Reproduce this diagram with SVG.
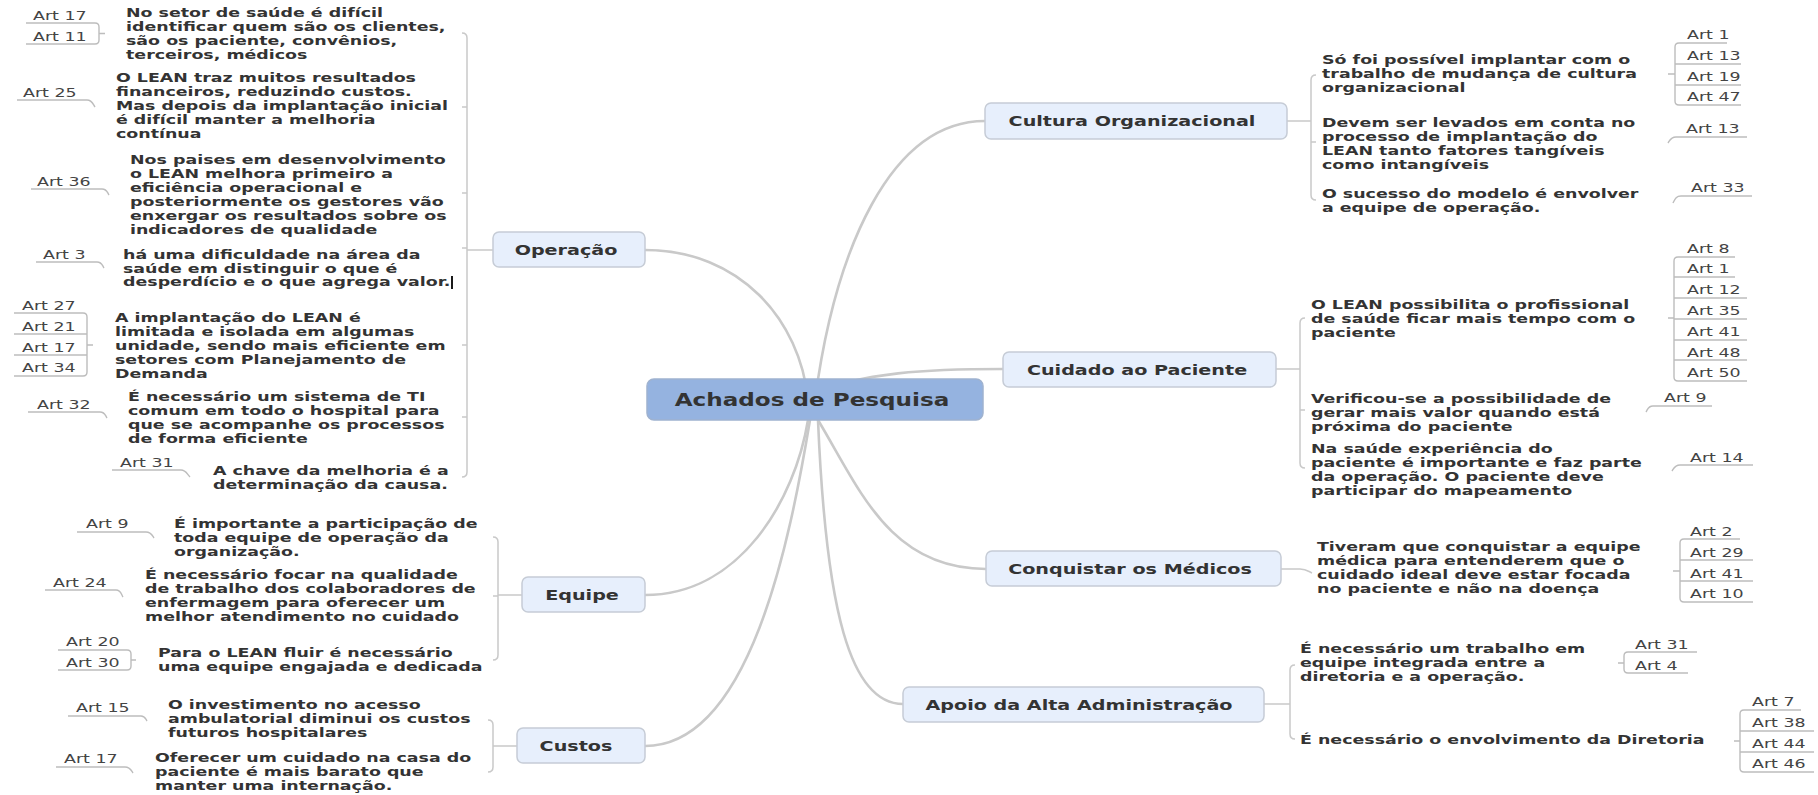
<svg xmlns="http://www.w3.org/2000/svg" width="1818" height="795" viewBox="0 0 1818 795">
  <style>
    .bg { fill: #ffffff; }
    .topic { fill: #e7effc; stroke: #c6ccd6; stroke-width: 1.5; }
    .root { fill: #95b3e0; stroke: #9fb2cf; stroke-width: 1.5; }
    .h { font-family: "DejaVu Sans", Verdana, sans-serif; font-weight: bold; font-size: 14.3px; fill: #333333; text-anchor: middle; }
    .hr { font-family: "DejaVu Sans", Verdana, sans-serif; font-weight: bold; font-size: 17.5px; fill: #333333; text-anchor: middle; }
    .t { font-family: "DejaVu Sans", Verdana, sans-serif; font-weight: bold; font-size: 13px; fill: #333333; }
    .a { font-family: "DejaVu Sans", Verdana, sans-serif; font-size: 13px; fill: #444444; }
    .cn { fill: none; stroke: #c9c9c9; stroke-width: 2.6; stroke-linecap: round; }
    .br { fill: none; stroke: #c9c9c9; stroke-width: 1.5; }
    .ul { fill: none; stroke: #bdbdbd; stroke-width: 1.4; }
  </style>
  <rect class="bg" x="0" y="0" width="1818" height="795"/>

  <g id="connectors">
    <!-- main branches from the central topic -->
    <path class="cn" d="M808,400 C800,320 740,250 645,250"/>
    <path class="cn" d="M815,400 C835,250 890,121 985,121"/>
    <path class="cn" d="M812,395 C860,372 930,369 1003,369"/>
    <path class="cn" d="M818,420 C860,490 890,569 986,569"/>
    <path class="cn" d="M818,420 C826,610 850,704 903,704"/>
    <path class="cn" d="M808,420 C795,500 740,595 645,595"/>
    <path class="cn" d="M810,420 C790,540 750,746 645,746"/>

    <!-- Operação bracket -->
    <path class="br" d="M462,33 Q467,33 467,38 V472 Q467,477 462,477 M462,107 H467 M462,193 H467 M462,248 H467 M462,345 H467 M462,417 H467 M467,250 H493"/>
    <!-- Equipe bracket -->
    <path class="br" d="M493,537 Q498,537 498,542 V655 Q498,660 493,660 M493,596 H498 M498,595 H522"/>
    <!-- Custos bracket -->
    <path class="br" d="M488,720 Q493,720 493,725 V767 Q493,772 488,772 M493,746 H517"/>
    <!-- Cultura bracket -->
    <path class="br" d="M1316,75 Q1311,75 1311,80 V195 Q1311,200 1316,200 M1311,142 H1316 M1287,121 H1311"/>
    <!-- Cuidado bracket -->
    <path class="br" d="M1305,318 Q1300,318 1300,323 V463 Q1300,468 1305,468 M1300,410 H1305 M1276,369 H1300"/>
    <!-- Conquistar link -->
    <path class="br" d="M1281,569 H1300 C1306,569 1308,571 1312,573"/>
    <!-- Apoio bracket -->
    <path class="br" d="M1295,665 Q1290,665 1290,670 V734 Q1290,739 1295,739 M1264,704 H1290"/>

    <!-- reference labels, left side -->
    <path class="ul" d="M26,23 H95 Q99,23 99,27 V40 Q99,44 95,44 H26 M99,33.5 H105"/>
    <path class="ul" d="M17,100 H87 C92,100 93,104 95,107"/>
    <path class="ul" d="M31,189 H102 C107,189 107,192 109,195"/>
    <path class="ul" d="M36,262 H97 C102,262 102,265 104,268"/>
    <path class="ul" d="M14,313 H83 Q87,313 87,317 V372 Q87,376 83,376 H14 M14,334 H87 M14,355 H87 M87,345 H93"/>
    <path class="ul" d="M28,412 H100 C105,412 105,415 107,418"/>
    <path class="ul" d="M112,470 H181 C186,470 187,474 190,477"/>
    <path class="ul" d="M77,532 H146 C151,532 152,535 154,538"/>
    <path class="ul" d="M45,590 H116 C121,590 121,594 123,597"/>
    <path class="ul" d="M58,650 H127 Q131,650 131,654 V666 Q131,670 127,670 H58 M131,660 H136"/>
    <path class="ul" d="M68,716 H141 C145,716 145,718 147,721"/>
    <path class="ul" d="M56,767 H125 C130,767 131,770 133,773"/>

    <!-- reference labels, right side -->
    <path class="ul" d="M1727,43 H1679 Q1675,43 1675,47 V101 Q1675,105 1679,105 H1741 M1675,64 H1741 M1675,85 H1741 M1675,74 H1668"/>
    <path class="ul" d="M1747,137 H1676 C1671,137 1670,140 1668,143"/>
    <path class="ul" d="M1752,196 H1681 C1676,196 1675,199 1673,203"/>
    <path class="ul" d="M1735,257 H1678 Q1674,257 1674,261 V377 Q1674,381 1678,381 H1747 M1674,277 H1735 M1674,298 H1747 M1674,319 H1747 M1674,340 H1747 M1674,360 H1747 M1674,318 H1668"/>
    <path class="ul" d="M1712,406 H1653 C1648,406 1648,409 1646,412"/>
    <path class="ul" d="M1753,465 H1680 C1675,465 1674,468 1672,471"/>
    <path class="ul" d="M1740,539 H1684 Q1680,539 1680,543 V598 Q1680,602 1684,602 H1753 M1680,560 H1753 M1680,581 H1753 M1680,571 H1673"/>
    <path class="ul" d="M1697,652 H1628 Q1624,652 1624,656 V669 Q1624,673 1628,673 H1688 M1624,663 H1618"/>
    <path class="ul" d="M1801,710 H1744 Q1740,710 1740,714 V768 Q1740,772 1744,772 H1814 M1740,731 H1814 M1740,752 H1814 M1740,741 H1734"/>
  </g>

  <!-- central topic -->
  <g id="root">
    <rect class="root" x="647" y="379" width="336" height="41" rx="7"/>
    <text class="hr" transform="translate(812,406) scale(1.32 1)" x="0" y="0">Achados de Pesquisa</text>
  </g>

  <!-- main topics -->
  <g id="operacao">
    <rect class="topic" x="493" y="232" width="152" height="35" rx="6"/>
    <text class="h" transform="translate(566,254.5) scale(1.34 1)">Operação</text>
  </g>
  <g id="equipe">
    <rect class="topic" x="522" y="577" width="123" height="35" rx="6"/>
    <text class="h" transform="translate(582,599.5) scale(1.34 1)">Equipe</text>
  </g>
  <g id="custos">
    <rect class="topic" x="517" y="728" width="128" height="35" rx="6"/>
    <text class="h" transform="translate(576,751) scale(1.34 1)">Custos</text>
  </g>
  <g id="cultura">
    <rect class="topic" x="985" y="103" width="302" height="36" rx="6"/>
    <text class="h" transform="translate(1132,126) scale(1.34 1)">Cultura Organizacional</text>
  </g>
  <g id="cuidado">
    <rect class="topic" x="1003" y="352" width="273" height="35" rx="6"/>
    <text class="h" transform="translate(1137,374.5) scale(1.34 1)">Cuidado ao Paciente</text>
  </g>
  <g id="conquistar">
    <rect class="topic" x="986" y="551" width="295" height="35" rx="6"/>
    <text class="h" transform="translate(1130,573.5) scale(1.34 1)">Conquistar os Médicos</text>
  </g>
  <g id="apoio">
    <rect class="topic" x="903" y="687" width="361" height="35" rx="6"/>
    <text class="h" transform="translate(1079,709.5) scale(1.34 1)">Apoio da Alta Administração</text>
  </g>

  <!-- Operação statements -->
  <g id="op-1">
    <text class="t" transform="translate(126,17) scale(1.34 1)"><tspan x="0">No setor de saúde é difícil</tspan><tspan x="0" dy="14">identificar quem são os clientes,</tspan><tspan x="0" dy="14">são os paciente, convênios,</tspan><tspan x="0" dy="14">terceiros, médicos</tspan></text>
  </g>
  <g id="op-1-refs">
    <text class="a" transform="translate(33,20) scale(1.34 1)">Art 17</text>
    <text class="a" transform="translate(33,41) scale(1.34 1)">Art 11</text>
  </g>
  <g id="op-2">
    <text class="t" transform="translate(116,82) scale(1.34 1)"><tspan x="0">O LEAN traz muitos resultados</tspan><tspan x="0" dy="14">financeiros, reduzindo custos.</tspan><tspan x="0" dy="14">Mas depois da implantação inicial</tspan><tspan x="0" dy="14">é difícil manter a melhoria</tspan><tspan x="0" dy="14">contínua</tspan></text>
  </g>
  <g id="op-2-refs">
    <text class="a" transform="translate(23,97) scale(1.34 1)">Art 25</text>
  </g>
  <g id="op-3">
    <text class="t" transform="translate(130,164) scale(1.34 1)"><tspan x="0">Nos paises em desenvolvimento</tspan><tspan x="0" dy="14">o LEAN melhora primeiro a</tspan><tspan x="0" dy="14">eficiência operacional e</tspan><tspan x="0" dy="14">posteriormente os gestores vão</tspan><tspan x="0" dy="14">enxergar os resultados sobre os</tspan><tspan x="0" dy="14">indicadores de qualidade</tspan></text>
  </g>
  <g id="op-3-refs">
    <text class="a" transform="translate(37,186) scale(1.34 1)">Art 36</text>
  </g>
  <g id="op-4">
    <text class="t" transform="translate(123,259) scale(1.34 1)"><tspan x="0">há uma dificuldade na área da</tspan><tspan x="0" dy="14">saúde em distinguir o que é</tspan><tspan x="0" dy="13.5">desperdício e o que agrega valor.</tspan></text>
    <rect x="451" y="276" width="2" height="13" fill="#1a1a1a"/>
  </g>
  <g id="op-4-refs">
    <text class="a" transform="translate(43,259) scale(1.34 1)">Art 3</text>
  </g>
  <g id="op-5">
    <text class="t" transform="translate(115,322) scale(1.34 1)"><tspan x="0">A implantação do LEAN é</tspan><tspan x="0" dy="14">limitada e isolada em algumas</tspan><tspan x="0" dy="14">unidade, sendo mais eficiente em</tspan><tspan x="0" dy="14">setores com Planejamento de</tspan><tspan x="0" dy="14">Demanda</tspan></text>
  </g>
  <g id="op-5-refs">
    <text class="a" transform="translate(22,310) scale(1.34 1)">Art 27</text>
    <text class="a" transform="translate(22,331) scale(1.34 1)">Art 21</text>
    <text class="a" transform="translate(22,352) scale(1.34 1)">Art 17</text>
    <text class="a" transform="translate(22,372) scale(1.34 1)">Art 34</text>
  </g>
  <g id="op-6">
    <text class="t" transform="translate(128,401) scale(1.34 1)"><tspan x="0">É necessário um sistema de TI</tspan><tspan x="0" dy="14">comum em todo o hospital para</tspan><tspan x="0" dy="14">que se acompanhe os processos</tspan><tspan x="0" dy="14">de forma eficiente</tspan></text>
  </g>
  <g id="op-6-refs">
    <text class="a" transform="translate(37,409) scale(1.34 1)">Art 32</text>
  </g>
  <g id="op-7">
    <text class="t" transform="translate(213,475) scale(1.34 1)"><tspan x="0">A chave da melhoria é a</tspan><tspan x="0" dy="14">determinação da causa.</tspan></text>
  </g>
  <g id="op-7-refs">
    <text class="a" transform="translate(120,467) scale(1.34 1)">Art 31</text>
  </g>

  <!-- Equipe statements -->
  <g id="eq-1">
    <text class="t" transform="translate(174,528) scale(1.34 1)"><tspan x="0">É importante a participação de</tspan><tspan x="0" dy="14">toda equipe de operação da</tspan><tspan x="0" dy="14">organização.</tspan></text>
  </g>
  <g id="eq-1-refs">
    <text class="a" transform="translate(86,528) scale(1.34 1)">Art 9</text>
  </g>
  <g id="eq-2">
    <text class="t" transform="translate(145,579) scale(1.34 1)"><tspan x="0">É necessário focar na qualidade</tspan><tspan x="0" dy="14">de trabalho dos colaboradores de</tspan><tspan x="0" dy="14">enfermagem para oferecer um</tspan><tspan x="0" dy="14">melhor atendimento no cuidado</tspan></text>
  </g>
  <g id="eq-2-refs">
    <text class="a" transform="translate(53,587) scale(1.34 1)">Art 24</text>
  </g>
  <g id="eq-3">
    <text class="t" transform="translate(158,657) scale(1.34 1)"><tspan x="0">Para o LEAN fluir é necessário</tspan><tspan x="0" dy="14">uma equipe engajada e dedicada</tspan></text>
  </g>
  <g id="eq-3-refs">
    <text class="a" transform="translate(66,646) scale(1.34 1)">Art 20</text>
    <text class="a" transform="translate(66,667) scale(1.34 1)">Art 30</text>
  </g>

  <!-- Custos statements -->
  <g id="cu-1">
    <text class="t" transform="translate(168,709) scale(1.34 1)"><tspan x="0">O investimento no acesso</tspan><tspan x="0" dy="14">ambulatorial diminui os custos</tspan><tspan x="0" dy="14">futuros hospitalares</tspan></text>
  </g>
  <g id="cu-1-refs">
    <text class="a" transform="translate(76,712) scale(1.34 1)">Art 15</text>
  </g>
  <g id="cu-2">
    <text class="t" transform="translate(155,762) scale(1.34 1)"><tspan x="0">Oferecer um cuidado na casa do</tspan><tspan x="0" dy="14">paciente é mais barato que</tspan><tspan x="0" dy="14">manter uma internação.</tspan></text>
  </g>
  <g id="cu-2-refs">
    <text class="a" transform="translate(64,763) scale(1.34 1)">Art 17</text>
  </g>

  <!-- Cultura Organizacional statements -->
  <g id="co-1">
    <text class="t" transform="translate(1322,64) scale(1.34 1)"><tspan x="0">Só foi possível implantar com o</tspan><tspan x="0" dy="14">trabalho de mudança de cultura</tspan><tspan x="0" dy="14">organizacional</tspan></text>
  </g>
  <g id="co-1-refs">
    <text class="a" transform="translate(1687,39) scale(1.34 1)">Art 1</text>
    <text class="a" transform="translate(1687,60) scale(1.34 1)">Art 13</text>
    <text class="a" transform="translate(1687,81) scale(1.34 1)">Art 19</text>
    <text class="a" transform="translate(1687,101) scale(1.34 1)">Art 47</text>
  </g>
  <g id="co-2">
    <text class="t" transform="translate(1322,127) scale(1.34 1)"><tspan x="0">Devem ser levados em conta no</tspan><tspan x="0" dy="14">processo de implantação do</tspan><tspan x="0" dy="14">LEAN tanto fatores tangíveis</tspan><tspan x="0" dy="14">como intangíveis</tspan></text>
  </g>
  <g id="co-2-refs">
    <text class="a" transform="translate(1686,133) scale(1.34 1)">Art 13</text>
  </g>
  <g id="co-3">
    <text class="t" transform="translate(1322,198) scale(1.34 1)"><tspan x="0">O sucesso do modelo é envolver</tspan><tspan x="0" dy="14">a equipe de operação.</tspan></text>
  </g>
  <g id="co-3-refs">
    <text class="a" transform="translate(1691,192) scale(1.34 1)">Art 33</text>
  </g>

  <!-- Cuidado ao Paciente statements -->
  <g id="cp-1">
    <text class="t" transform="translate(1311,309) scale(1.34 1)"><tspan x="0">O LEAN possibilita o profissional</tspan><tspan x="0" dy="14">de saúde ficar mais tempo com o</tspan><tspan x="0" dy="14">paciente</tspan></text>
  </g>
  <g id="cp-1-refs">
    <text class="a" transform="translate(1687,253) scale(1.34 1)">Art 8</text>
    <text class="a" transform="translate(1687,273) scale(1.34 1)">Art 1</text>
    <text class="a" transform="translate(1687,294) scale(1.34 1)">Art 12</text>
    <text class="a" transform="translate(1687,315) scale(1.34 1)">Art 35</text>
    <text class="a" transform="translate(1687,336) scale(1.34 1)">Art 41</text>
    <text class="a" transform="translate(1687,357) scale(1.34 1)">Art 48</text>
    <text class="a" transform="translate(1687,377) scale(1.34 1)">Art 50</text>
  </g>
  <g id="cp-2">
    <text class="t" transform="translate(1311,403) scale(1.34 1)"><tspan x="0">Verificou-se a possibilidade de</tspan><tspan x="0" dy="14">gerar mais valor quando está</tspan><tspan x="0" dy="14">próxima do paciente</tspan></text>
  </g>
  <g id="cp-2-refs">
    <text class="a" transform="translate(1664,402) scale(1.34 1)">Art 9</text>
  </g>
  <g id="cp-3">
    <text class="t" transform="translate(1311,453) scale(1.34 1)"><tspan x="0">Na saúde experiência do</tspan><tspan x="0" dy="14">paciente é importante e faz parte</tspan><tspan x="0" dy="14">da operação. O paciente deve</tspan><tspan x="0" dy="14">participar do mapeamento</tspan></text>
  </g>
  <g id="cp-3-refs">
    <text class="a" transform="translate(1690,462) scale(1.34 1)">Art 14</text>
  </g>

  <!-- Conquistar os Médicos statement -->
  <g id="cm-1">
    <text class="t" transform="translate(1317,551) scale(1.34 1)"><tspan x="0">Tiveram que conquistar a equipe</tspan><tspan x="0" dy="14">médica para entenderem que o</tspan><tspan x="0" dy="14">cuidado ideal deve estar focada</tspan><tspan x="0" dy="14">no paciente e não na doença</tspan></text>
  </g>
  <g id="cm-1-refs">
    <text class="a" transform="translate(1690,536) scale(1.34 1)">Art 2</text>
    <text class="a" transform="translate(1690,557) scale(1.34 1)">Art 29</text>
    <text class="a" transform="translate(1690,578) scale(1.34 1)">Art 41</text>
    <text class="a" transform="translate(1690,598) scale(1.34 1)">Art 10</text>
  </g>

  <!-- Apoio da Alta Administração statements -->
  <g id="aa-1">
    <text class="t" transform="translate(1300,653) scale(1.34 1)"><tspan x="0">É necessário um trabalho em</tspan><tspan x="0" dy="14">equipe integrada entre a</tspan><tspan x="0" dy="14">diretoria e a operação.</tspan></text>
  </g>
  <g id="aa-1-refs">
    <text class="a" transform="translate(1635,649) scale(1.34 1)">Art 31</text>
    <text class="a" transform="translate(1635,670) scale(1.34 1)">Art 4</text>
  </g>
  <g id="aa-2">
    <text class="t" transform="translate(1300,744) scale(1.34 1)">É necessário o envolvimento da Diretoria</text>
  </g>
  <g id="aa-2-refs">
    <text class="a" transform="translate(1752,706) scale(1.34 1)">Art 7</text>
    <text class="a" transform="translate(1752,727) scale(1.34 1)">Art 38</text>
    <text class="a" transform="translate(1752,748) scale(1.34 1)">Art 44</text>
    <text class="a" transform="translate(1752,768) scale(1.34 1)">Art 46</text>
  </g>
</svg>
